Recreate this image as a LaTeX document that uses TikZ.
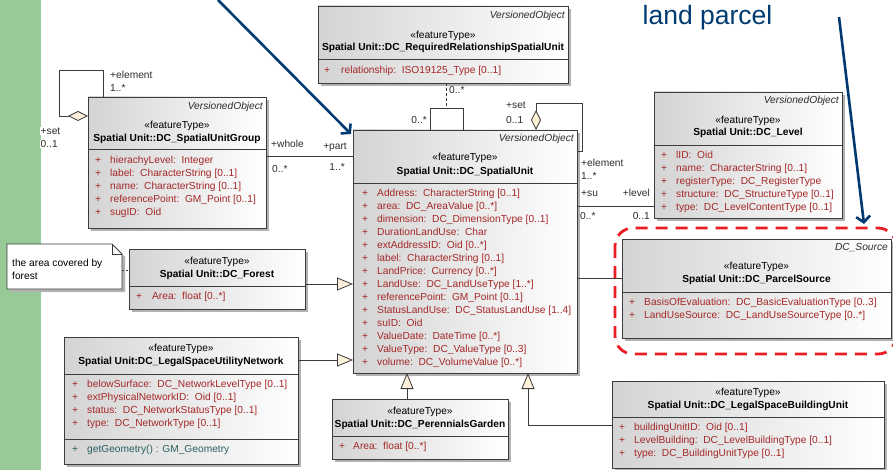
\documentclass[tikz,border=0pt]{standalone}
\usepackage{fontspec}
\setmainfont{Liberation Sans}
\usetikzlibrary{arrows.meta,shadows}
\definecolor{greenstrip}{RGB}{151,202,151}
\definecolor{attrred}{RGB}{165,40,40}
\definecolor{opteal}{RGB}{40,95,95}
\definecolor{cream}{RGB}{253,240,218}
\definecolor{bord}{RGB}{60,60,60}
\definecolor{annot}{RGB}{0,58,112}
\definecolor{labgray}{RGB}{45,45,45}
\definecolor{hilite}{RGB}{235,28,36}
\newcommand{\pl}{\makebox[15pt][l]{+}}
\tikzset{
 classbox/.style={draw=bord, line width=0.9pt, left color=black!17, right color=white, inner sep=0pt, outer sep=0pt,
   drop shadow={shadow xshift=3pt, shadow yshift=-3pt, fill=black!30, opacity=1}},
 boxline/.style={draw=bord, line width=0.8pt},
 stereo/.style={font=\fontsize{10.2}{13}\selectfont, anchor=base, inner sep=0pt, text=black},
 cname/.style={font=\bfseries\fontsize{10.2}{13}\selectfont, anchor=base, inner sep=0pt, text=black},
 vobj/.style={font=\itshape\fontsize{10.2}{13}\selectfont, anchor=base east, inner sep=0pt, text=labgray},
 attrs/.style={font=\fontsize{10.2}{13}\selectfont, anchor=base west, inner sep=0pt, text=attrred},
 lab/.style={font=\fontsize{10.2}{13}\selectfont, inner sep=0pt, text=labgray},
 conn/.style={draw=bord, line width=0.8pt},
 gen/.style={conn, -{Triangle[length=16pt, width=13pt, fill=cream]}},
 agg/.style={conn, {Diamond[length=20pt, width=10pt, fill=cream]}-},
 annotarrow/.style={draw=annot, line width=2.6pt, -{Straight Barb[length=6pt, width=14pt]}},
}
\newcommand{\klass}[6]{%
  \node[classbox, minimum width={#4-#2}, minimum height={#5-#3}, anchor=north west] (#1) at (#2,#3) {};
  \draw[boxline] (#1.west |- 0,#6) -- (#1.east |- 0,#6);
}
\begin{document}
\begin{tikzpicture}[x=1pt,y=-1pt]
\useasboundingbox (0,0) rectangle (893,470);
\fill[greenstrip] (0,0) rectangle (41,470);

% ---------- classes ----------
\klass{sug}{88}{97}{266}{228}{149}
\node[vobj] (sugV) at (263,109.5) {VersionedObject};
\node[stereo] (sugS) at (sug.north |- 0,128.5) {«featureType»};
\node[cname] (sugN) at (sug.north |- 0,141.5) {Spatial Unit::DC\_SpatialUnitGroup};
\node[attrs] (sugA) at (95,163.5) {\begin{tabular}[t]{@{}l@{}}
\pl hierachyLevel:\ \ Integer\\
\pl label:\ \ CharacterString [0..1]\\
\pl name:\ \ CharacterString [0..1]\\
\pl referencePoint:\ \ GM\_Point [0..1]\\
\pl sugID:\ \ Oid\end{tabular}};

\klass{rrs}{318}{6}{568}{83}{59}
\node[vobj] (rrsV) at (565,18.5) {VersionedObject};
\node[stereo] (rrsS) at (rrs.north |- 0,38.5) {«featureType»};
\node[cname] (rrsN) at (rrs.north |- 0,50.5) {Spatial Unit::DC\_RequiredRelationshipSpatialUnit};
\node[attrs] (rrsA) at (324,73.5) {\begin{tabular}[t]{@{}l@{}}
\makebox[17pt][l]{+}relationship:\ \ ISO19125\_Type [0..1]\end{tabular}};

\klass{su}{353}{130}{577}{373}{183}
\node[vobj] (suV) at (574,141.5) {VersionedObject};
\node[stereo] (suS) at (su.north |- 0,160.5) {«featureType»};
\node[cname] (suN) at (su.north |- 0,174.5) {Spatial Unit::DC\_SpatialUnit};
\node[attrs] (suA) at (362,196.5) {\begin{tabular}[t]{@{}l@{}}
\pl Address:\ \ CharacterString [0..1]\\
\pl area:\ \ DC\_AreaValue [0..*]\\
\pl dimension:\ \ DC\_DimensionType [0..1]\\
\pl DurationLandUse:\ \ Char\\
\pl extAddressID:\ \ Oid [0..*]\\
\pl label:\ \ CharacterString [0..1]\\
\pl LandPrice:\ \ Currency [0..*]\\
\pl LandUse:\ \ DC\_LandUseType [1..*]\\
\pl referencePoint:\ \ GM\_Point [0..1]\\
\pl StatusLandUse:\ \ DC\_StatusLandUse [1..4]\\
\pl suID:\ \ Oid\\
\pl ValueDate:\ \ DateTime [0..*]\\
\pl ValueType:\ \ DC\_ValueType [0..3]\\
\pl volume:\ \ DC\_VolumeValue [0..*]\end{tabular}};

\klass{lev}{654}{92}{842}{218}{145}
\node[vobj] (levV) at (839,103.5) {VersionedObject};
\node[stereo] (levS) at (lev.north |- 0,123.5) {«featureType»};
\node[cname] (levN) at (lev.north |- 0,135.5) {Spatial Unit::DC\_Level};
\node[attrs] (levA) at (661,158.5) {\begin{tabular}[t]{@{}l@{}}
\pl lID:\ \ Oid\\
\pl name:\ \ CharacterString [0..1]\\
\pl registerType:\ \ DC\_RegisterType\\
\pl structure:\ \ DC\_StructureType [0..1]\\
\pl type:\ \ DC\_LevelContentType [0..1]\end{tabular}};

\klass{ps}{622}{239}{891}{338}{292}
\node[vobj] (psV) at (888,250.5) {DC\_Source};
\node[stereo] (psS) at (ps.north |- 0,269.5) {«featureType»};
\node[cname] (psN) at (ps.north |- 0,282.5) {Spatial Unit::DC\_ParcelSource};
\node[attrs] (psA) at (629,305.5) {\begin{tabular}[t]{@{}l@{}}
\pl BasisOfEvaluation:\ \ DC\_BasicEvaluationType [0..3]\\
\pl LandUseSource:\ \ DC\_LandUseSourceType [0..*]\end{tabular}};

\klass{for}{129}{249}{305}{309}{286}
\node[stereo] (forS) at (for.north |- 0,264.5) {«featureType»};
\node[cname] (forN) at (for.north |- 0,277.5) {Spatial Unit::DC\_Forest};
\node[attrs] (forA) at (136,299.5) {\begin{tabular}[t]{@{}l@{}}
\makebox[16pt][l]{+}Area:\ \ float [0..*]\end{tabular}};

\klass{lsun}{64}{337}{298}{464}{374}
\draw[boxline] (lsun.west |- 0,439) -- (lsun.east |- 0,439);
\node[stereo] (lsunS) at (lsun.north |- 0,351.5) {«featureType»};
\node[cname] (lsunN) at (lsun.north |- 0,364.5) {Spatial Unit:DC\_LegalSpaceUtilityNetwork};
\node[attrs] (lsunA) at (72,387.5) {\begin{tabular}[t]{@{}l@{}}
\pl belowSurface:\ \ DC\_NetworkLevelType [0..1]\\
\pl extPhysicalNetworkID:\ \ Oid [0..1]\\
\pl status:\ \ DC\_NetworkStatusType [0..1]\\
\pl type:\ \ DC\_NetworkType [0..1]\end{tabular}};
\node[attrs, text=opteal] (lsunO) at (72,452.5) {\begin{tabular}[t]{@{}l@{}}
\pl getGeometry() : GM\_Geometry\end{tabular}};

\klass{pg}{332}{399}{508}{459}{436}
\node[stereo] (pgS) at (pg.north |- 0,414.5) {«featureType»};
\node[cname] (pgN) at (pg.north |- 0,427.5) {Spatial Unit::DC\_PerennialsGarden};
\node[attrs] (pgA) at (339,449.5) {\begin{tabular}[t]{@{}l@{}}
\makebox[14pt][l]{+}Area:\ \ float [0..*]\end{tabular}};

\klass{lsbu}{612}{381}{884}{468}{417}
\node[stereo] (lsbuS) at (lsbu.north |- 0,395.5) {«featureType»};
\node[cname] (lsbuN) at (lsbu.north |- 0,408.5) {Spatial Unit::DC\_LegalSpaceBuildingUnit};
\node[attrs] (lsbuA) at (619,430.5) {\begin{tabular}[t]{@{}l@{}}
\pl buildingUnitID:\ \ Oid [0..1]\\
\pl LevelBuilding:\ \ DC\_LevelBuildingType [0..1]\\
\pl type:\ \ DC\_BuildingUnitType [0..1]\end{tabular}};

% ---------- note ----------
\node[minimum width=115pt, minimum height=45pt, inner sep=0pt, outer sep=0pt, anchor=north west] (note) at (7,244) {};
\fill[black!30] ([shift={(3pt,-3pt)}]note.north west) -- ([shift={(-7pt,-3pt)}]note.north east) -- ([shift={(3pt,-13pt)}]note.north east) -- ([shift={(3pt,-3pt)}]note.south east) -- ([shift={(3pt,-3pt)}]note.south west) -- cycle;
\filldraw[draw=bord, fill=white, line width=0.8pt] (note.north west) -- ([xshift=-10pt]note.north east) -- ([yshift=-10pt]note.north east) -- (note.south east) -- (note.south west) -- cycle;
\draw[bord, line width=0.8pt] ([xshift=-10pt]note.north east) -- ([shift={(-10pt,-10pt)}]note.north east) -- ([yshift=-10pt]note.north east);
\node[lab, anchor=base west, text=black] (noteT) at (12,266.5) {\begin{tabular}[t]{@{}l@{}}the area covered by\\ forest\end{tabular}};
\draw[conn, dash pattern=on 2pt off 2pt] (note.east |- 0,270) -- (for.west |- 0,270);

% ---------- connectors ----------
\draw[agg] (sug.west |- 0,116) -- (59,116) -- (59,70) -- (103,70) -- (sug.north -| 103,0);
\node[lab, anchor=base west] (l1) at (110,78.5) {+element};
\node[lab, anchor=base west] (l2) at (110,91.5) {1..*};
\node[lab, anchor=base west, fill=white, inner sep=0.5pt] (l3) at (40,134.5) {+set};
\node[lab, anchor=base west, fill=white, inner sep=0.5pt] (l4) at (40,147.5) {0..1};

\coordinate (acj) at (446,108);
\draw[conn, dash pattern=on 3pt off 2pt] (rrs.south -| acj) -- (acj);
\draw[conn] (su.north -| 430,0) -- (430,108) -- (463,108) -- (su.north -| 463,0);
\node[lab, anchor=base west] (l5) at (449,93.5) {0..*};
\node[lab, anchor=base east] (l6) at (427,123.5) {0..*};

\draw[agg] (su.north -| 536,0) -- (536,103) -- (582,103) -- (582,151) -- (su.east |- 0,151);
\node[lab, anchor=base west] (l7) at (506,108.5) {+set};
\node[lab, anchor=base west] (l8) at (506,123.5) {0..1};
\node[lab, anchor=base west] (l9) at (581,167) {+element};
\node[lab, anchor=base west] (l10) at (581,179.5) {1..*};

\draw[conn] (sug.east |- 0,156) -- (su.west |- 0,156);
\node[lab, anchor=base west] (l11) at (271,147.5) {+whole};
\node[lab, anchor=base west] (l12) at (272,172.5) {0..*};
\node[lab, anchor=base east] (l13) at (347,149.5) {+part};
\node[lab, anchor=base east] (l14) at (345,170.5) {1..*};

\draw[conn] (su.east |- 0,206) -- (lev.west |- 0,206);
\node[lab, anchor=base west] (l15) at (581,196.5) {+su};
\node[lab, anchor=base west] (l16) at (580,220) {0..*};
\node[lab, anchor=base east] (l17) at (650,196.5) {+level};
\node[lab, anchor=base east] (l18) at (650,220) {0..1};

\draw[conn] (su.east |- 0,278) -- (ps.west |- 0,278);

\draw[gen] (for.east |- 0,284) -- (su.west |- 0,284);
\draw[gen] (lsun.east |- 0,360) -- (su.west |- 0,360);
\draw[gen] (pg.north -| 407,0) -- (su.south -| 407,0);
\draw[gen] (lsbu.west |- 0,425) -- (528,425) -- (su.south -| 528,0);

% ---------- annotations ----------
\draw[hilite, line width=2.8pt, dash pattern=on 12pt off 8pt, rounded corners=18pt] (615,228) rectangle (896,354);
\node[font=\fontsize{26.5}{30}\selectfont, text=annot, anchor=base, inner sep=0pt] (lp) at (707.5,24.5) {land parcel};
\coordinate (a1s) at (218,0);
\coordinate (a1e) at (351,134);
\draw[annotarrow] (a1s) -- (a1e);
\coordinate (a2s) at (839,17);
\coordinate (a2e) at (864,224);
\draw[annotarrow] (a2s) -- (a2e);
\end{tikzpicture}
\end{document}
